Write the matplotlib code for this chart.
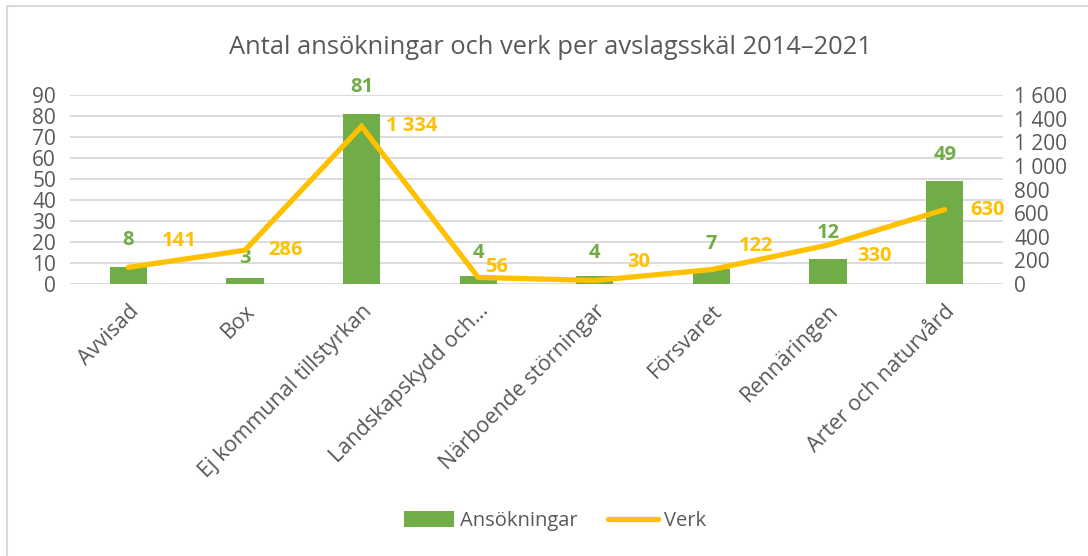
"""Antal ansökningar och verk per avslagsskäl 2014–2021."""

import matplotlib

matplotlib.use("Agg")
import matplotlib.pyplot as plt
from matplotlib.lines import Line2D
from matplotlib.patches import Patch, Rectangle

CATEGORIES = [
    "Avvisad",
    "Box",
    "Ej kommunal tillstyrkan",
    "Landskapskydd och…",
    "Närboende störningar",
    "Försvaret",
    "Rennäringen",
    "Arter och naturvård",
]
ANSOKNINGAR = [8, 3, 81, 4, 4, 7, 12, 49]
VERK = [141, 286, 1334, 56, 30, 122, 330, 630]
VERK_LABELS = ["141", "286", "1 334", "56", "30", "122", "330", "630"]

LEFT_TICKS = list(range(0, 91, 10))
RIGHT_TICKS = list(range(0, 1601, 200))

# label nudges in pixels (Excel labels were dragged by hand)
VERK_LABEL_DX = [33, 23, 24, 7, 32, 27, 29, 26]
VERK_LABEL_DY = [26, 0, 0, 10, 18, 24, -11, 0]
BAR_LABEL_DY = [27, 20, 27, 23, 23, 25, 26, 26]

GREEN = "#70AD47"
YELLOW = "#FFC000"
GRAY_TEXT = "#595959"
GRID = "#D9D9D9"

plt.rcParams["font.family"] = ["Open Sans", "DejaVu Sans"]

fig = plt.figure(figsize=(10.88, 5.56), dpi=100)
fig.patches.append(
    Rectangle((7 / 1088, -0.1), 1.2, (556 - 6) / 556 + 0.1,
              transform=fig.transFigure, fill=False,
              edgecolor="#D9D9D9", linewidth=1.5)
)

ax = fig.add_axes([70 / 1088, 272 / 556, 933 / 1088, 189 / 556])
ax2 = ax.twinx()

x = list(range(len(CATEGORIES)))
ax.bar(x, ANSOKNINGAR, width=0.32, color=GREEN, zorder=2)
ax2.plot(x, VERK, color=YELLOW, linewidth=3.8, solid_capstyle="round",
         solid_joinstyle="miter", zorder=3)

ax.set_xlim(-0.5, len(CATEGORIES) - 0.5)
ax.set_ylim(0, 90)
ax2.set_ylim(0, 1600)
ax.set_yticks(LEFT_TICKS)
ax2.set_yticks(RIGHT_TICKS)
ax2.set_yticklabels([f"{v:,}".replace(",", " ") for v in RIGHT_TICKS])

for a in (ax, ax2):
    for spine in a.spines.values():
        spine.set_visible(False)
    a.tick_params(length=0, labelsize=15, labelcolor=GRAY_TEXT, pad=4)
ax.tick_params(axis="y", pad=10)
ax2.tick_params(axis="y", pad=8)

ax.yaxis.grid(True, color=GRID, linewidth=1.3, zorder=0)
ax.set_axisbelow(True)
ax.set_xticks(x)
ax.set_xticklabels(CATEGORIES, rotation=45, ha="right",
                   rotation_mode="anchor", fontsize=15.5)
ax.tick_params(axis="x", pad=12)

px = 72 / fig.dpi
for i, v in enumerate(ANSOKNINGAR):
    ax.annotate(str(v), (i, v), xytext=(0, BAR_LABEL_DY[i] * px),
                textcoords="offset points", ha="center", va="center",
                color=GREEN, fontsize=14.5, fontweight="bold")
for i, v in enumerate(VERK):
    ax2.annotate(VERK_LABELS[i], (i, v),
                 xytext=(VERK_LABEL_DX[i] * px, VERK_LABEL_DY[i] * px),
                 textcoords="offset points", ha="left", va="center",
                 color=YELLOW, fontsize=14.5, fontweight="bold")

fig.text(550 / 1088, 1 - 47 / 556,
         "Antal ansökningar och verk per avslagsskäl 2014–2021",
         ha="center", va="center", fontsize=18.4, color=GRAY_TEXT)

handles = [
    Patch(facecolor=GREEN, label="Ansökningar"),
    Line2D([0], [0], color=YELLOW, linewidth=3.8, solid_capstyle="round",
           label="Verk"),
]
fig.legend(handles=handles, loc="center", bbox_to_anchor=(555 / 1088, 1 - 521 / 556),
           ncol=2, frameon=False, fontsize=14.5, labelcolor=GRAY_TEXT,
           handlelength=2.5, handleheight=0.8, handletextpad=0.3,
           columnspacing=1.5)

fig.savefig("out.png", dpi=100)
